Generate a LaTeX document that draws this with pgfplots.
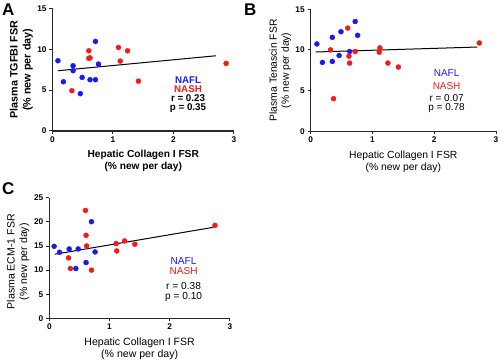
\documentclass[border=0pt]{standalone}
\usepackage{fontspec}
\setmainfont{Liberation Sans}
\usepackage{pgfplots}
\pgfplotsset{compat=1.18}
\definecolor{nblue}{RGB}{25,25,245}
\definecolor{nred}{RGB}{245,25,25}
\definecolor{axgray}{RGB}{40,40,40}
\pgfplotsset{
  gp/.style={scale only axis, clip=false,
    axis x line=bottom, axis y line=left,
    axis line style={-, line width=1.1bp, axgray},
    tick style={axgray, line width=1bp},
    tick align=outside, major tick length=3bp,
    xmin=0, xmax=3, xtick={0,1,2,3}, ymin=0,
    /pgf/number format/assume math mode=true,
    tick label style={font=\fontsize{8.3}{9}\selectfont\bfseries},
    xticklabel style={yshift=1bp},
    yticklabel style={xshift=0.5bp},
    label style={align=center},
  },
  nafl/.style={only marks, mark=*, mark size=2.5bp, color=nblue, mark options={draw=nblue, fill=nblue}},
  nash/.style={only marks, mark=*, mark size=2.5bp, color=nred, mark options={draw=nred, fill=nred}},
  fitl/.style={no marks, black, line width=1bp},
}
\begin{document}
\begin{tikzpicture}
\useasboundingbox (0bp,0bp) rectangle (500bp,361bp);
% ---------- Panel A ----------
\begin{axis}[gp, at={(52.5bp,230bp)}, anchor=south west, width=181.5bp, height=122.5bp,
  ymax=15, ytick={0,5,10,15},
  xlabel={Hepatic Collagen I FSR\\(\% new per day)},
  ylabel={Plasma TGFBI FSR\\(\% new per day)},
  xlabel style={at={(axis description cs:0.5,-0.245)}, anchor=center, font=\fontsize{10.2}{12}\selectfont\bfseries},
  ylabel style={at={(axis description cs:-0.172,0.5)}, anchor=center, font=\fontsize{10.8}{13}\selectfont\bfseries},
]
\addplot[fitl] coordinates {(0.09,7.38) (2.70,9.21)};
\addplot[nafl] coordinates {(0.09,8.6) (0.18,6.03) (0.34,7.99) (0.34,7.38) (0.49,6.56) (0.46,4.57) (0.62,6.28) (0.71,6.28) (0.71,10.97) (0.76,8.19)};
\addplot[nash] coordinates {(0.32,4.93) (0.60,9.82) (0.60,8.90) (0.62,8.95) (1.09,10.23) (1.24,9.82) (1.12,8.56) (1.42,6.11) (2.87,8.28)};
\node[font=\fontsize{9.8}{10}\selectfont\bfseries, text=nblue] at (axis cs:2.24,6.24) {NAFL};
\node[font=\fontsize{9.8}{10}\selectfont\bfseries, text=nred] at (axis cs:2.24,5.10) {NASH};
\node[font=\fontsize{9.8}{10}\selectfont\bfseries] at (axis cs:2.24,4.08) {r = 0.23};
\node[font=\fontsize{9.8}{10}\selectfont\bfseries] at (axis cs:2.24,2.85) {p = 0.35};
\end{axis}
% ---------- Panel B ----------
\begin{axis}[gp, at={(310.7bp,229.7bp)}, anchor=south west, width=185.3bp, height=122bp,
  ymax=15, ytick={0,5,10,15},
  xlabel={Hepatic Collagen I FSR\\(\% new per day)},
  ylabel={Plasma Tenascin FSR\\(\% new per day)},
  xlabel style={at={(axis description cs:0.5,-0.25)}, anchor=center, font=\fontsize{10.4}{12}\selectfont},
  ylabel style={at={(axis description cs:-0.165,0.5)}, anchor=center, font=\fontsize{10.4}{12}\selectfont},
]
\addplot[fitl] coordinates {(0.08,9.75) (2.70,10.36)};
\addplot[nafl] coordinates {(0.10,10.74) (0.19,8.47) (0.35,11.55) (0.35,8.59) (0.49,12.24) (0.46,9.32) (0.63,9.81) (0.72,13.5) (0.76,11.8)};
\addplot[nash] coordinates {(0.32,10.01) (0.60,12.69) (0.62,9.24) (0.63,8.39) (0.72,9.81) (0.37,4.01) (1.11,9.73) (1.12,10.26) (1.25,8.39) (1.42,7.90) (2.73,10.86)};
\node[font=\fontsize{10}{10}\selectfont, text=nblue] at (axis cs:2.2,7.2) {NAFL};
\node[font=\fontsize{10}{10}\selectfont, text=nred] at (axis cs:2.2,5.57) {NASH};
\node[font=\fontsize{10}{10}\selectfont] at (axis cs:2.2,4.13) {r = 0.07};
\node[font=\fontsize{10}{10}\selectfont] at (axis cs:2.2,2.83) {p = 0.78};
\end{axis}
% ---------- Panel C ----------
\begin{axis}[gp, at={(49.3bp,42.7bp)}, anchor=south west, width=180.7bp, height=120.5bp,
  ymax=25, ytick={0,5,10,15,20,25},
  xlabel={Hepatic Collagen I FSR\\(\% new per day)},
  ylabel={Plasma ECM-1 FSR\\(\% new per day)},
  xlabel style={at={(axis description cs:0.5,-0.252)}, anchor=center, font=\fontsize{10.6}{12}\selectfont},
  ylabel style={at={(axis description cs:-0.172,0.47)}, anchor=center, font=\fontsize{10.6}{12.5}\selectfont},
]
\addplot[fitl] coordinates {(0.09,13.29) (2.72,18.87)};
\addplot[nafl] coordinates {(0.08,14.94) (0.17,13.7) (0.33,14.39) (0.48,14.39) (0.44,10.33) (0.61,11.57) (0.70,20.04) (0.76,13.77)};
\addplot[nash] coordinates {(0.32,12.53) (0.35,10.33) (0.60,22.38) (0.61,17.22) (0.62,15.01) (0.70,9.99) (1.11,15.5) (1.12,13.98) (1.25,16.05) (1.42,15.36) (2.75,19.28)};
\node[font=\fontsize{10.2}{10}\selectfont, text=nblue] at (axis cs:2.23,11.89) {NAFL};
\node[font=\fontsize{10.2}{10}\selectfont, text=nred] at (axis cs:2.23,9.88) {NASH};
\node[font=\fontsize{10.2}{10}\selectfont] at (axis cs:2.23,6.7) {r = 0.38};
\node[font=\fontsize{10.2}{10}\selectfont] at (axis cs:2.23,4.48) {p = 0.10};
\end{axis}
% panel letters
\node[anchor=north west, inner sep=0pt, font=\fontsize{17}{17}\selectfont\bfseries] at (2bp,357bp) {A};
\node[anchor=north west, inner sep=0pt, font=\fontsize{17}{17}\selectfont\bfseries] at (244bp,357bp) {B};
\node[anchor=north west, inner sep=0pt, font=\fontsize{17}{17}\selectfont\bfseries] at (2bp,179bp) {C};
\end{tikzpicture}
\end{document}
